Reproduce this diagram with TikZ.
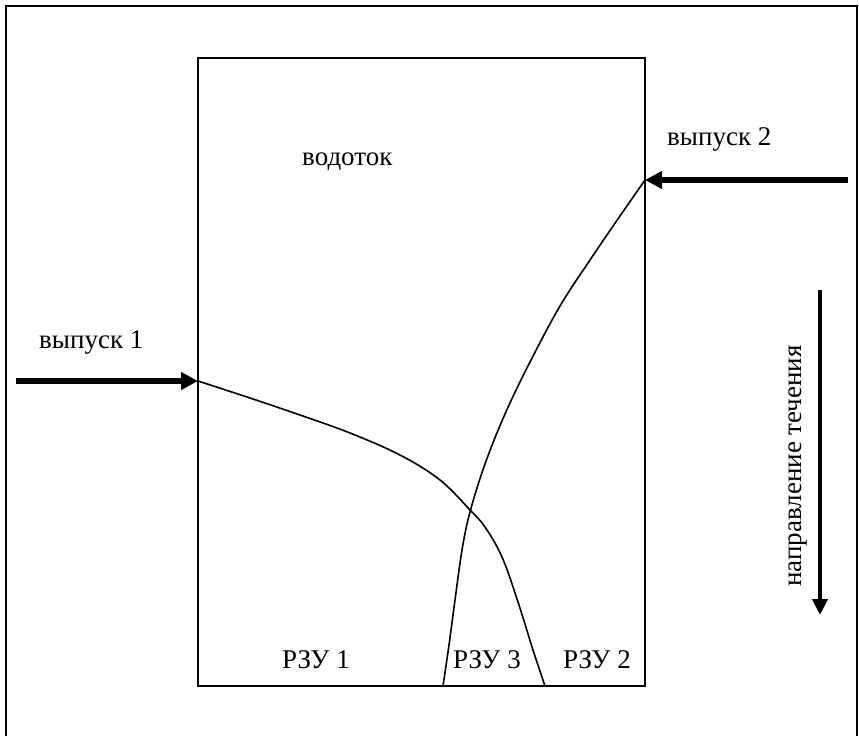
\documentclass[tikz,border=0pt]{standalone}
\usepackage{fontspec}
\setmainfont{Liberation Serif}
\usetikzlibrary{arrows.meta}
\begin{document}
\begin{tikzpicture}[x=1pt,y=-1pt,
  lbl/.style={font=\fontsize{27}{32}\selectfont, inner sep=0pt, anchor=base west},
  feed/.style={line width=6pt, -{Triangle[length=17pt,width=17pt]}},
  zone/.style={line width=1.6pt}]
\useasboundingbox (0,0) rectangle (859,736);
% frame and river
\draw[line width=2.5pt] (6,736) -- (6,6) -- (857,6) -- (857,736);
\draw[zone] (198,58) rectangle (645,686);
\coordinate (in1) at (198,381);
\coordinate (in2) at (645,180);
\coordinate (src1) at (16,381);
\coordinate (src2) at (848,180);
\coordinate (out1) at (545,686);
\coordinate (out3) at (443,686);
\coordinate (flowtop) at (820,290);
\coordinate (flowend) at (820,615);
% outlets
\draw[feed] (src1) -- (in1);
\draw[feed] (src2) -- (in2);
\draw[line width=4pt, -{Triangle[length=16pt,width=15pt]}] (flowtop) -- (flowend);
% zone borders
\draw[zone] plot[smooth, tension=0.6] coordinates {(in1) (250,398) (300,415) (350,433) (400,455) (440,480) (470,510) (485,527) (502,557) (518,602) (533,650) (out1)};
\draw[zone] plot[smooth, tension=0.6] coordinates {(in2) (620,216) (590,260) (560,306) (530,362) (505,414) (485,464) (470,512) (462,550) (455,600) (449,645) (out3)};
% labels
\node[lbl] (vyp1) at (39,348) {выпуск 1};
\node[lbl] (vyp2) at (667,145) {выпуск 2};
\node[lbl] (vod) at (302,165) {водоток};
\node[lbl] (rzu1) at (282,668) {РЗУ 1};
\node[lbl] (rzu3) at (453,668) {РЗУ 3};
\node[lbl] (rzu2) at (563,668) {РЗУ 2};
\node[lbl, anchor=base, rotate=90] (flow) at (801,466) {направление течения};
\end{tikzpicture}
\end{document}
